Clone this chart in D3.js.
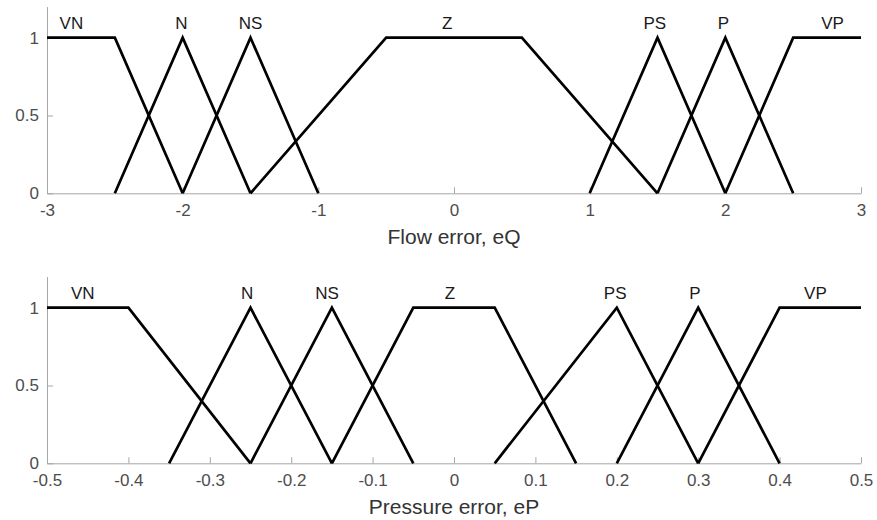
<!DOCTYPE html>
<html>
<head>
<meta charset="utf-8">
<script src="https://cdn.jsdelivr.net/npm/d3@7"></script>
<style>
  html, body { margin: 0; padding: 0; background: #fff; }
  svg { display: block; font-family: "Liberation Sans", Arial, Helvetica, sans-serif; }
</style>
</head>
<body>
<svg id="chart" width="877" height="520"></svg>
<script>
// Membership function breakpoints (x at membership 0 / 1 / 1 / 0)
const flowNames = ["VN", "N", "NS", "Z", "PS", "P", "VP"];
const flowBreaks = [
  [-3, -3, -2.5, -2],
  [-2.5, -2, -2, -1.5],
  [-2, -1.5, -1.5, -1],
  [-1.5, -0.5, 0.5, 1.5],
  [1, 1.5, 1.5, 2],
  [1.5, 2, 2, 2.5],
  [2, 2.5, 3, 3]
];
const flowLabelX = [-2.82, -2.01, -1.5, -0.05, 1.48, 1.985, 2.79];
const flowTicks = [-3, -2, -1, 0, 1, 2, 3];

const pressNames = ["VN", "N", "NS", "Z", "PS", "P", "VP"];
const pressBreaks = [
  [-0.5, -0.5, -0.4, -0.25],
  [-0.35, -0.25, -0.25, -0.15],
  [-0.25, -0.15, -0.15, -0.05],
  [-0.15, -0.05, 0.05, 0.15],
  [0.05, 0.2, 0.2, 0.3],
  [0.2, 0.3, 0.3, 0.4],
  [0.3, 0.4, 0.5, 0.5]
];
const pressLabelX = [-0.456, -0.254, -0.156, -0.005, 0.198, 0.296, 0.444];
const pressTicks = [-0.5, -0.4, -0.3, -0.2, -0.1, 0, 0.1, 0.2, 0.3, 0.4, 0.5];

const yTicks = [0, 0.5, 1];
const yTickLabels = ["0", "0.5", "1"];

const svg = d3.select("#chart");
const FONT = "'Liberation Sans', Arial, Helvetica, sans-serif";

function panel(cfg) {
  const x = d3.scaleLinear().domain(cfg.domain).range([47, 861]);
  const y = d3.scaleLinear().domain([0, 1.2]).range([cfg.y0, cfg.y0 - 1.2 * 155.6]);
  const g = svg.append("g");

  // x axis: ticks pointing inward
  const xAxis = d3.axisBottom(x).tickValues(cfg.ticks)
    .tickSizeInner(-6).tickSizeOuter(0).tickPadding(11)
    .tickFormat(d => String(d));
  const gx = g.append("g").attr("transform", `translate(0,${cfg.y0})`).call(xAxis)
    .attr("font-size", 17).attr("font-family", FONT);
  gx.select(".domain").attr("stroke", "#a6a6a6").attr("stroke-width", 1);
  gx.selectAll(".tick line").attr("stroke", "#a6a6a6");
  gx.selectAll(".tick text").attr("fill", "#4d4d4d");

  // y axis
  const yAxis = d3.axisLeft(y).tickValues(yTicks)
    .tickSizeInner(-6).tickSizeOuter(0).tickPadding(8)
    .tickFormat((d, i) => yTickLabels[i]);
  const gy = g.append("g").attr("transform", "translate(47,0)").call(yAxis)
    .attr("font-size", 17).attr("font-family", FONT);
  gy.select(".domain").attr("stroke", "#a6a6a6").attr("stroke-width", 1);
  gy.selectAll(".tick line").attr("stroke", "#a6a6a6");
  gy.selectAll(".tick text").attr("fill", "#4d4d4d");

  // membership function curves (shoulders start/end on the plateau)
  const line = d3.line().x(d => x(d[0])).y(d => y(d[1]));
  cfg.breaks.forEach(b => {
    const pts = [];
    if (b[0] !== b[1]) pts.push([b[0], 0]);
    pts.push([b[1], 1], [b[2], 1]);
    if (b[2] !== b[3]) pts.push([b[3], 0]);
    g.append("path").attr("d", line(pts))
      .attr("fill", "none").attr("stroke", "#000").attr("stroke-width", 2.7)
      .attr("stroke-linejoin", "miter");
  });

  // set labels
  cfg.names.forEach((n, i) => {
    g.append("text").attr("x", x(cfg.labelX[i])).attr("y", y(1.055))
      .attr("text-anchor", "middle").attr("font-size", 17).attr("fill", "#1a1a1a")
      .attr("font-family", FONT)
      .text(n);
  });

  // axis title
  g.append("text").attr("x", x((cfg.domain[0] + cfg.domain[1]) / 2)).attr("y", cfg.y0 + 51)
    .attr("text-anchor", "middle").attr("font-size", 21).attr("fill", "#333")
    .attr("font-family", FONT)
    .text(cfg.title);
}

panel({ domain: [-3, 3], ticks: flowTicks, breaks: flowBreaks, names: flowNames,
        labelX: flowLabelX, y0: 193.3, title: "Flow error, eQ" });
panel({ domain: [-0.5, 0.5], ticks: pressTicks, breaks: pressBreaks, names: pressNames,
        labelX: pressLabelX, y0: 463.3, title: "Pressure error, eP" });
</script>
</body>
</html>
